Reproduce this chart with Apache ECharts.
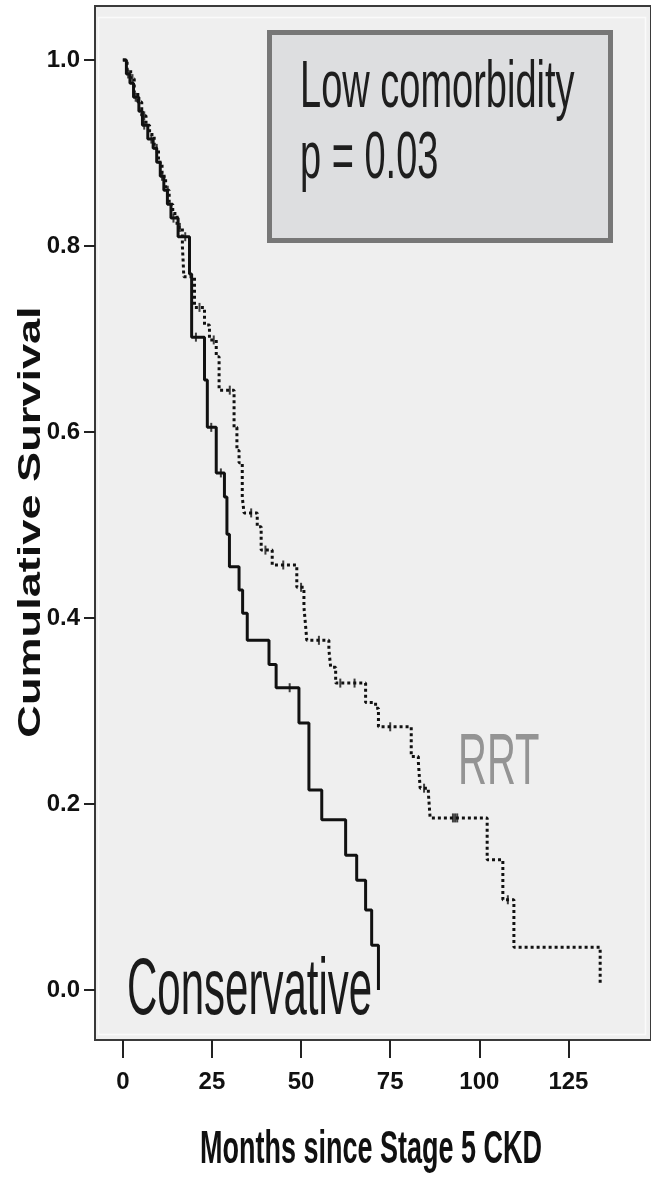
<!DOCTYPE html>
<html>
<head>
<meta charset="utf-8">
<script src="https://cdn.jsdelivr.net/npm/echarts@6/dist/echarts.min.js"></script>
<style>
html,body{margin:0;padding:0;background:#fff;}
#chart{width:651px;height:1177px;}
</style>
</head>
<body>
<div id="chart"></div>
<script>
// ---- Data (months since Stage 5 CKD, cumulative survival after each step) ----
const consTime = [0, 1.0, 2.0, 3.0, 4.5, 5.5, 7.0, 8.5, 9.5, 10.5, 11.5, 12.5, 13.5, 15.5, 18.7, 19.3, 22.9, 23.7, 26.2, 28.5, 29.2, 29.9, 32.6, 33.6, 34.9, 41.0, 43.0, 49.4, 52.2, 55.8, 62.5, 65.6, 68.1, 69.8, 71.7];
const consSurv = [1.0, 0.985, 0.975, 0.96, 0.945, 0.93, 0.915, 0.905, 0.89, 0.875, 0.86, 0.845, 0.83, 0.81, 0.77, 0.702, 0.656, 0.605, 0.556, 0.53, 0.49, 0.455, 0.43, 0.405, 0.376, 0.35, 0.325, 0.287, 0.215, 0.183, 0.145, 0.118, 0.086, 0.048, 0.0];

const rrtTime = [0, 1.2, 2.2, 3.2, 4.2, 5.3, 6.5, 7.5, 8.8, 10.0, 11.0, 12.0, 13.0, 14.0, 15.2, 16.7, 16.9, 17.1, 20.1, 22.9, 24.3, 26.2, 27.0, 31.2, 32.0, 32.6, 33.5, 34.0, 37.7, 38.8, 41.9, 48.8, 50.8, 51.3, 51.6, 57.8, 58.3, 59.7, 68.1, 70.9, 71.7, 80.9, 82.9, 83.4, 85.7, 86.2, 102.2, 106.6, 109.7, 133.9];
const rrtSurv = [1.0, 0.99, 0.98, 0.965, 0.955, 0.94, 0.93, 0.92, 0.905, 0.89, 0.875, 0.86, 0.845, 0.835, 0.82, 0.80, 0.785, 0.767, 0.734, 0.715, 0.699, 0.681, 0.645, 0.605, 0.58, 0.567, 0.53, 0.513, 0.498, 0.473, 0.457, 0.433, 0.412, 0.39, 0.376, 0.366, 0.347, 0.33, 0.309, 0.303, 0.283, 0.251, 0.245, 0.217, 0.212, 0.185, 0.14, 0.097, 0.046, 0.005];

const consCensor = [1.5, 3.6, 6.0, 8.0, 11.0, 14.2, 17.5, 20.5, 24.8, 27.5, 46.8];
const rrtCensor = [2.7, 6.0, 9.5, 12.6, 16.0, 21.5, 25.5, 30.0, 36.0, 40.0, 45.0, 50.0, 55.0, 61.0, 65.0, 75.0, 84.5, 92.6, 93.2, 93.8, 108.0];

const xTicks = [0, 25, 50, 75, 100, 125];
const yTicks = [0.0, 0.2, 0.4, 0.6, 0.8, 1.0];

const annotationLines = ['Low comorbidity', 'p = 0.03'];
const groupLabels = ['Conservative', 'RRT'];

function survAt(times, survs, t) {
  let s = survs[0];
  for (let i = 0; i < times.length; i++) { if (times[i] <= t) s = survs[i]; }
  return s;
}

const chart = echarts.init(document.getElementById('chart'), null, {renderer: 'canvas'});
const tickFont = "'Liberation Sans Narrow','Liberation Sans',Arial,sans-serif";

const option = {
  animation: false,
  backgroundColor: '#ffffff',
  grid: {
    left: 95, right: -3, top: 6, bottom: 137,
    show: true, backgroundColor: '#efefef', borderColor: '#3a3a3a', borderWidth: 2
  },
  xAxis: {
    type: 'value', min: -7.81, max: 148.16,
    splitLine: {show: false},
    axisLine: {show: true, onZero: false, lineStyle: {color: '#3a3a3a', width: 2}},
    axisTick: {show: true, customValues: xTicks, length: 18, lineStyle: {color: '#222', width: 2}},
    axisLabel: {show: true, customValues: xTicks, margin: 30, fontFamily: tickFont, fontWeight: 'bold', fontSize: 24, color: '#111'}
  },
  yAxis: {
    type: 'value', min: -0.0538, max: 1.0581,
    splitLine: {show: false},
    axisLine: {show: true, onZero: false, lineStyle: {color: '#3a3a3a', width: 2}},
    axisTick: {show: true, customValues: yTicks, length: 11, lineStyle: {color: '#222', width: 2}},
    axisLabel: {show: true, customValues: yTicks, margin: 15, fontFamily: tickFont, fontWeight: 'bold', fontSize: 24, color: '#111',
      formatter: v => Number(v).toFixed(1)}
  },
  series: [
    {
      name: 'Conservative', type: 'line', step: 'end', symbol: 'none',
      data: consTime.map((t, i) => [t, consSurv[i]]),
      lineStyle: {color: '#111', width: 3}, z: 3
    },
    {
      name: 'RRT', type: 'line', step: 'end', symbol: 'none',
      data: rrtTime.map((t, i) => [t, rrtSurv[i]]),
      lineStyle: {color: '#111', width: 3, type: [3, 3]}, z: 3
    },
    {
      name: 'Conservative censored', type: 'scatter', symbol: 'rect', symbolSize: [2, 9],
      data: consCensor.map(t => [t, survAt(consTime, consSurv, t)]),
      itemStyle: {color: '#111'}, z: 4
    },
    {
      name: 'RRT censored', type: 'scatter', symbol: 'rect', symbolSize: [2, 9],
      data: rrtCensor.map(t => [t, survAt(rrtTime, rrtSurv, t)]),
      itemStyle: {color: '#111'}, z: 4
    }
  ],
  graphic: [
    {type: 'rect', z: 1, silent: true, shape: {x: 98.5, y: 17.5, width: 547, height: 1017},
      style: {fill: null, stroke: '#fafafa', lineWidth: 1.5}},
    {type: 'rect', z: 50, silent: true, shape: {x: 272, y: 35, width: 341, height: 208},
      style: {fill: '#b0b0b0', stroke: null}},
    {type: 'rect', z: 51, silent: true, shape: {x: 269.5, y: 32.5, width: 341, height: 208},
      style: {fill: '#dddee0', stroke: '#777777', lineWidth: 5}},
    {type: 'text', z: 52, silent: true, x: 300, y: 89, scaleY: 1.74,
      style: {text: annotationLines[0], x: 0, y: 0, font: "38px 'Liberation Sans', Arial, sans-serif", fill: '#1e1e1e', verticalAlign: 'middle', align: 'left'}},
    {type: 'text', z: 52, silent: true, x: 300, y: 160, scaleY: 1.74,
      style: {text: annotationLines[1], x: 0, y: 0, font: "38px 'Liberation Sans', Arial, sans-serif", fill: '#1e1e1e', verticalAlign: 'middle', align: 'left'}},
    {type: 'text', z: 52, silent: true, x: 127, y: 992, scaleY: 1.9,
      style: {text: groupLabels[0], x: 0, y: 0, font: "42px 'Liberation Sans', Arial, sans-serif", fill: '#1a1a1a', verticalAlign: 'middle', align: 'left'}},
    {type: 'text', z: 52, silent: true, x: 458, y: 764, scaleY: 1.8,
      style: {text: groupLabels[1], x: 0, y: 0, font: "40px 'Liberation Sans', Arial, sans-serif", fill: '#949494', verticalAlign: 'middle', align: 'left'}},
    {type: 'text', z: 52, silent: true, x: 371, y: 1150, scaleY: 1.7,
      style: {text: 'Months since Stage 5 CKD', x: 0, y: 0, font: "bold 27px 'Liberation Sans', Arial, sans-serif", fill: '#111', verticalAlign: 'middle', align: 'center'}},
    {type: 'text', z: 52, silent: true, x: 31, y: 522, rotation: Math.PI / 2, scaleX: 1.41,
      style: {text: 'Cumulative Survival', x: 0, y: 0, font: "bold 32px 'Liberation Sans', Arial, sans-serif", fill: '#111', verticalAlign: 'middle', align: 'center'}}
  ]
};
chart.setOption(option);
</script>
</body>
</html>
